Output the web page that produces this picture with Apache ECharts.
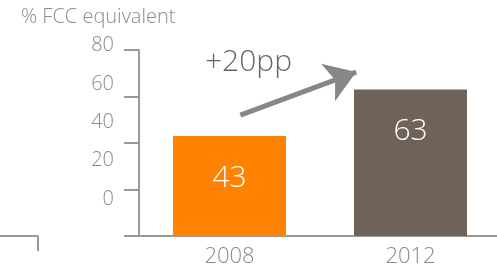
<!doctype html>
<html>
<head>
    <meta charset="UTF-8">
    <script src="https://cdn.jsdelivr.net/npm/echarts@6/dist/echarts.min.js"></script>
    <style>
        html, body { margin: 0; padding: 0; background: #fff; }
        #chart { width: 497px; height: 266px; }
    </style>
</head>
<body>
    <div id="chart"></div>
    <script>
        // data
        const years = ['2008', '2012'];
        const shares = [43, 63];
        const barColors = ['#ff8200', '#6e6259'];
        const yTicks = [0, 20, 40, 60, 80];
        const gainLabel = '+20pp';
        // arrow from/to, in [category position, value]
        const arrowFrom = [0.06, 52];
        const arrowTo = [0.70, 70.5];

        const axisGrey = '#9d9894';
        const textGrey = '#8a8a8a';
        const font = 'Open Sans';

        const chart = echarts.init(document.getElementById('chart'));
        chart.setOption({
            animation: false,
            title: {
                text: '% FCC equivalent',
                left: 16, top: 2,
                textStyle: { color: textGrey, fontSize: 20, fontWeight: 300, fontFamily: font }
            },
            grid: [
                { left: 139, right: -4, top: 50, bottom: 30, outerBoundsMode: 'none', containLabel: false },
                { left: 139, right: -4, top: 45.5, bottom: 67, outerBoundsMode: 'none', containLabel: false },
                { left: 0, width: 38, top: 50, bottom: 30, outerBoundsMode: 'none', containLabel: false }
            ],
            xAxis: [
                {
                    gridIndex: 0, type: 'category', data: years,
                    axisLine: { onZero: false, lineStyle: { color: axisGrey, width: 2 } },
                    axisTick: { length: 15, lineStyle: { color: axisGrey, width: 2 } },
                    axisLabel: { color: textGrey, fontSize: 22, fontWeight: 300, margin: 10, fontFamily: font }
                },
                { gridIndex: 1, type: 'category', data: years, show: false },
                {
                    gridIndex: 2, type: 'value', min: 0, max: 1, interval: 1,
                    axisLine: { onZero: false, lineStyle: { color: axisGrey, width: 2 } },
                    axisTick: { customValues: [1], length: 15, lineStyle: { color: axisGrey, width: 2 } },
                    axisLabel: { show: false },
                    splitLine: { show: false }
                },
                { gridIndex: 0, type: 'value', min: -0.5, max: 1.5, show: false }
            ],
            yAxis: [
                {
                    gridIndex: 0, type: 'value', min: 0, max: 80, interval: 20,
                    axisLine: { show: true, onZero: false, lineStyle: { color: axisGrey, width: 2 } },
                    axisTick: { show: true, length: 15, lineStyle: { color: axisGrey, width: 2 } },
                    axisLabel: { show: false },
                    splitLine: { show: false },
                    z: 5
                },
                {
                    gridIndex: 1, type: 'value', min: yTicks[0], max: yTicks[yTicks.length - 1], interval: 20,
                    axisLine: { show: false },
                    axisTick: { show: false },
                    axisLabel: { color: textGrey, fontSize: 20, fontWeight: 300, margin: 25, fontFamily: font },
                    splitLine: { show: false }
                },
                { gridIndex: 2, type: 'value', min: 0, max: 1, show: false }
            ],
            graphic: [{
                type: 'text', left: 205, top: 47,
                style: { text: gainLabel, fill: '#6e6259', fontSize: 30, fontWeight: 300, fontFamily: font }
            }],
            series: [
                {
                    type: 'bar', xAxisIndex: 0, yAxisIndex: 0,
                    barWidth: 113,
                    data: shares.map((v, i) => ({ value: v, itemStyle: { color: barColors[i] } })),
                    label: {
                        show: true, position: 'insideTop', distance: 27,
                        color: '#fff', fontSize: 30, fontWeight: 300, fontFamily: font
                    }
                },
                {
                    type: 'lines', coordinateSystem: 'cartesian2d',
                    xAxisIndex: 3, yAxisIndex: 0,
                    symbol: ['none', 'arrow'], symbolSize: [24, 30],
                    lineStyle: { color: '#878787', width: 5, opacity: 1 },
                    data: [{ coords: [arrowFrom, arrowTo] }]
                }
            ]
        });
    </script>
</body>
</html>
